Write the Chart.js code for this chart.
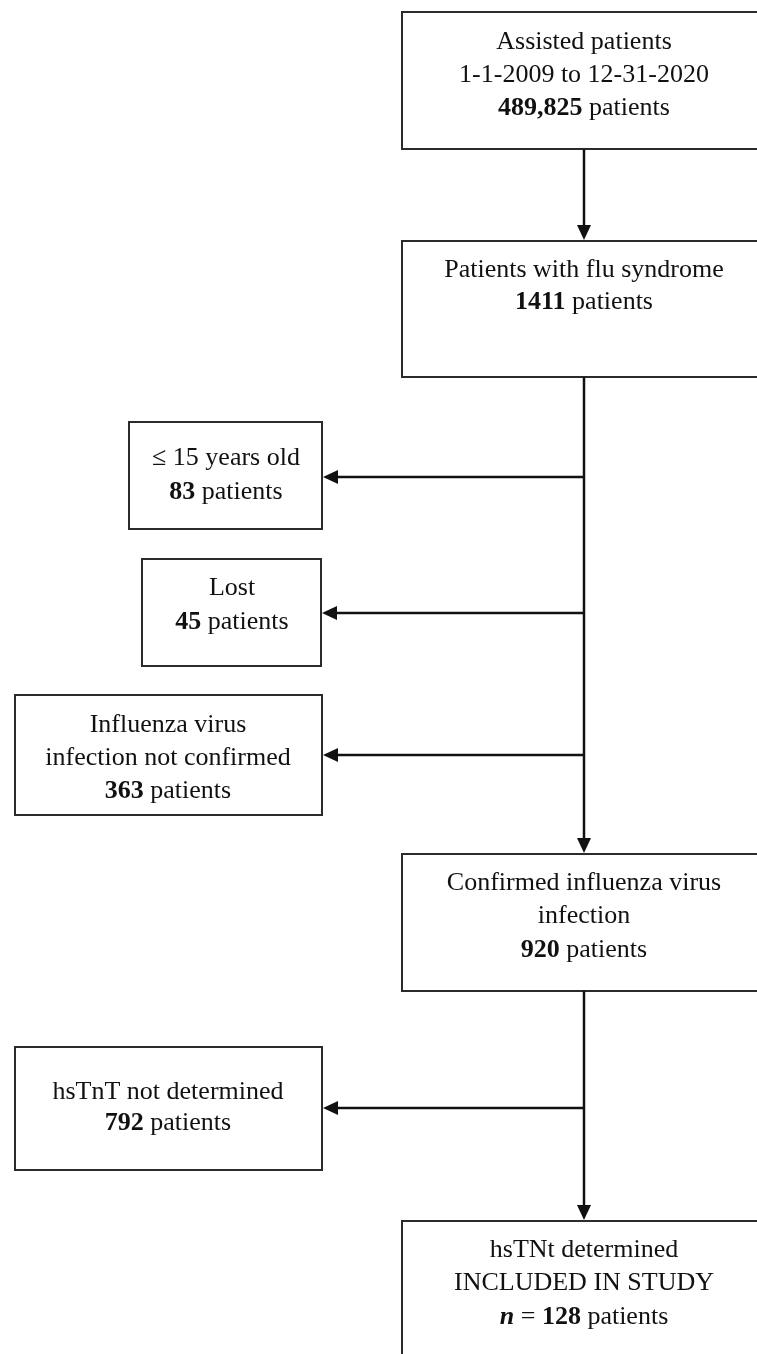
<!DOCTYPE html>
<html>
<head>
<meta charset="utf-8">
<script src="https://cdn.jsdelivr.net/npm/chart.js@4"></script>
<style>
  html, body { margin: 0; padding: 0; background: #ffffff; }
  #wrap { width: 757px; height: 1354px; position: relative; }
  canvas { display: block; }
</style>
</head>
<body>
<div id="wrap"><canvas id="c" width="757" height="1354"></canvas></div>
<script>
// ---------- data ----------
const stepNames = [
  "Assisted patients",
  "Patients with flu syndrome",
  "≤ 15 years old",
  "Lost",
  "Influenza virus|infection not confirmed",
  "Confirmed influenza virus|infection",
  "hsTnT not determined",
  "hsTNt determined|INCLUDED IN STUDY"
];
const patientCounts = [489825, 1411, 83, 45, 363, 920, 792, 128];
const periodStart = "1-1-2009";
const periodEnd = "12-31-2020";
// which step each box flows from (-1 = start); excluded = side branch
const parentStep = [-1, 0, 1, 1, 1, 1, 5, 5];
const isExcluded = [false, false, true, true, true, false, true, false];

// ---------- layout (pixel-space coordinates on a 757 x 1354 linear scale) ----------
const boxLeft   = [402, 402, 129, 142,  15, 402,   15,  402];
const boxRight  = [766, 766, 322, 321, 322, 766,  322,  766];
const boxTop    = [ 12, 241, 422, 559, 695, 854, 1047, 1221];
const boxBottom = [149, 377, 529, 666, 815, 991, 1170, 1420];
const firstLineY= [ 42, 270, 458, 588, 725, 883, 1092, 1250];
const lineGap   = [ 33,  32,  34,  34,  33,  33.5, 31, 33.5];
const branchY   = [null, null, 477, 613, 755, null, 1108, null];
const trunkX = 584;
const textCenterX = [584, 584, 226, 232, 168, 584, 168, 584];

const FONT_FAMILY = '"Liberation Serif", "DejaVu Serif", serif';
const FONT_SIZE = 26;

function fmtCount(n) {
  return n >= 10000 ? n.toLocaleString('en-US') : String(n);
}

function boxLines(i) {
  const lines = stepNames[i].split('|').map(t => [{ t: t, w: 'normal' }]);
  if (i === 0) lines.push([{ t: periodStart + ' to ' + periodEnd, w: 'normal' }]);
  const countLine = [];
  if (i === 7) {
    countLine.push({ t: 'n', w: 'bold', s: 'italic' });
    countLine.push({ t: ' = ', w: 'normal' });
  }
  countLine.push({ t: fmtCount(patientCounts[i]), w: 'bold' });
  countLine.push({ t: ' patients', w: 'normal' });
  lines.push(countLine);
  return lines;
}

const flowPlugin = {
  id: 'flow',
  afterDatasetsDraw(chart) {
    const ctx = chart.ctx;
    const xs = chart.scales.x, ys = chart.scales.y;
    const X = v => xs.getPixelForValue(v);
    const Y = v => ys.getPixelForValue(v);
    ctx.save();

    // boxes
    ctx.strokeStyle = '#2b2b2b';
    ctx.lineWidth = 2;
    for (let i = 0; i < stepNames.length; i++) {
      const l = X(boxLeft[i]), r = X(boxRight[i]);
      const t = Y(boxTop[i]), b = Y(boxBottom[i]);
      ctx.fillStyle = '#ffffff';
      ctx.fillRect(l, t, r - l, b - t);
      ctx.strokeRect(l, t, r - l, b - t);
    }

    // text
    ctx.fillStyle = '#111111';
    ctx.textBaseline = 'middle';
    ctx.textAlign = 'left';
    for (let i = 0; i < stepNames.length; i++) {
      const lines = boxLines(i);
      lines.forEach((segs, k) => {
        let total = 0;
        segs.forEach(s => {
          ctx.font = (s.s || 'normal') + ' ' + s.w + ' ' + FONT_SIZE + 'px ' + FONT_FAMILY;
          s.width = ctx.measureText(s.t).width;
          total += s.width;
        });
        let x = X(textCenterX[i]) - total / 2;
        const y = Y(firstLineY[i] + k * lineGap[i]);
        segs.forEach(s => {
          ctx.font = (s.s || 'normal') + ' ' + s.w + ' ' + FONT_SIZE + 'px ' + FONT_FAMILY;
          ctx.fillText(s.t, x, y);
          x += s.width;
        });
      });
    }

    // connectors
    ctx.strokeStyle = '#111111';
    ctx.fillStyle = '#111111';
    ctx.lineWidth = 2.5;
    function line(x1, y1, x2, y2) {
      ctx.beginPath();
      ctx.moveTo(X(x1), Y(y1));
      ctx.lineTo(X(x2), Y(y2));
      ctx.stroke();
    }
    function headDown(x, y) {
      const px = X(x), py = Y(y);
      ctx.beginPath();
      ctx.moveTo(px, py);
      ctx.lineTo(px - 7, py - 15);
      ctx.lineTo(px + 7, py - 15);
      ctx.closePath();
      ctx.fill();
    }
    function headLeft(x, y) {
      const px = X(x), py = Y(y);
      ctx.beginPath();
      ctx.moveTo(px, py);
      ctx.lineTo(px + 15, py - 7);
      ctx.lineTo(px + 15, py + 7);
      ctx.closePath();
      ctx.fill();
    }
    for (let i = 0; i < stepNames.length; i++) {
      const p = parentStep[i];
      if (p < 0) continue;
      if (isExcluded[i]) {
        line(trunkX, branchY[i], boxRight[i] + 12, branchY[i]);
        headLeft(boxRight[i] + 1, branchY[i]);
      } else {
        line(trunkX, boxBottom[p], trunkX, boxTop[i] - 12);
        headDown(trunkX, boxTop[i] - 1);
      }
    }
    ctx.restore();
  }
};

const anchorPoints = stepNames.map((_, i) => ({ x: textCenterX[i], y: (boxTop[i] + Math.min(boxBottom[i], 1354)) / 2 }));

new Chart(document.getElementById('c'), {
  type: 'scatter',
  data: {
    datasets: [{
      label: 'Patients',
      data: anchorPoints,
      pointRadius: 0,
      pointHoverRadius: 0
    }]
  },
  options: {
    responsive: false,
    animation: false,
    devicePixelRatio: 1,
    layout: { padding: 0 },
    plugins: { legend: { display: false }, tooltip: { enabled: false } },
    scales: {
      x: { type: 'linear', min: 0, max: 757, display: false },
      y: { type: 'linear', min: 0, max: 1354, reverse: true, display: false }
    }
  },
  plugins: [flowPlugin]
});
</script>
</body>
</html>
